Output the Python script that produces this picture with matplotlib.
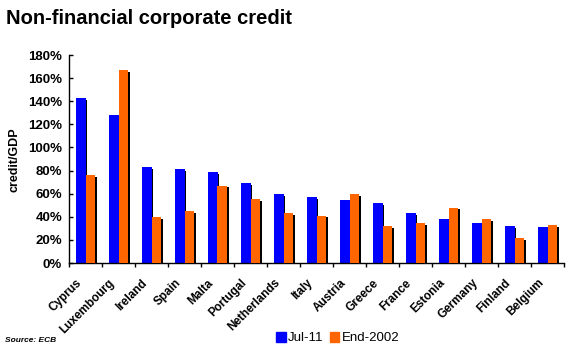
import numpy as np
import matplotlib.pyplot as plt
from matplotlib.ticker import FuncFormatter, FixedLocator
from matplotlib.patches import Rectangle

# data
countries = ["Cyprus", "Luxembourg", "Ireland", "Spain", "Malta", "Portugal",
             "Netherlands", "Italy", "Austria", "Greece", "France", "Estonia",
             "Germany", "Finland", "Belgium"]
jul11 = [143, 128, 83, 81, 79, 69, 60, 57, 54.5, 52, 43, 38, 34.5, 32, 31]
end2002 = [76, 167, 40, 45, 67, 55, 43, 41, 60, 32, 34.5, 48, 38, 21.5, 33]

BLUE = "#0000ff"
ORANGE = "#ff6600"
FONT = "Liberation Sans"

plt.rcParams["font.family"] = FONT

fig = plt.figure(figsize=(5.76, 3.54), dpi=100)
ax = fig.add_axes([69 / 576, 1 - 263 / 354, (564 - 69) / 576, (263 - 55) / 354])

x = np.arange(len(countries))
w = 0.29
dx = 0.06
dy = 1.6

# black drop shadows behind each bar
ax.bar(x - w / 2 + dx, np.array(jul11) - dy, w, color="black", zorder=1)
ax.bar(x + w / 2 + dx, np.array(end2002) - dy, w, color="black", zorder=1)
ax.bar(x - w / 2, jul11, w, color=BLUE, zorder=2, label="Jul-11")
ax.bar(x + w / 2, end2002, w, color=ORANGE, zorder=3, label="End-2002")

ax.set_xlim(-0.5, len(countries) - 0.5)
ax.set_ylim(0, 180)
ax.set_yticks(np.arange(0, 181, 20))
ax.yaxis.set_major_formatter(FuncFormatter(lambda v, p: f"{v:.0f}%"))
ax.tick_params(axis="y", direction="in", length=3, width=1, labelsize=9.5, pad=5)
for t in ax.get_yticklabels():
    t.set_fontweight("bold")

# category ticks between groups, labels rotated under each group
ax.xaxis.set_major_locator(FixedLocator(np.arange(-0.5, len(countries), 1)))
ax.xaxis.set_major_formatter(FuncFormatter(lambda v, p: ""))
ax.tick_params(axis="x", direction="out", length=3, width=1)
for i, c in enumerate(countries):
    ax.text(i - 0.3, -12, c, rotation=45, ha="right", va="top",
            rotation_mode="anchor", fontsize=8.5, fontweight="bold")

for s in ["top", "right"]:
    ax.spines[s].set_visible(False)
ax.spines["left"].set_linewidth(1)
ax.spines["bottom"].set_linewidth(1)

fig.text(14 / 576, 1 - 160 / 354, "credit/GDP", rotation=90, ha="center",
         va="center", fontsize=9, fontweight="bold")
fig.text(6 / 576, 1 - 18 / 354, "Non-financial corporate credit", ha="left",
         va="center", fontsize=14.5, fontweight="heavy")
fig.text(5 / 576, 1 - 341 / 354, "Source: ECB", ha="left", va="center",
         fontsize=6, fontweight="bold", style="italic")

# legend
handles = [Rectangle((0, 0), 1, 1, color=BLUE), Rectangle((0, 0), 1, 1, color=ORANGE)]
fig.legend(handles, ["Jul-11", "End-2002"], loc="center",
           bbox_to_anchor=(338 / 576, 1 - 338 / 354), ncol=2, frameon=False,
           fontsize=9.5, handlelength=0.7, handleheight=0.8, handletextpad=0.2,
           columnspacing=0.5, borderpad=0)

fig.savefig("out.png", dpi=100)
